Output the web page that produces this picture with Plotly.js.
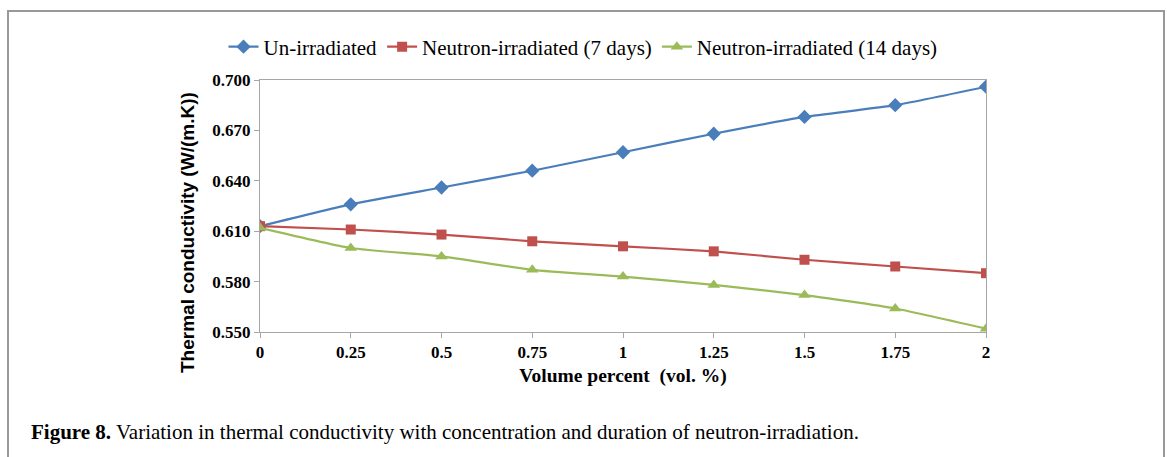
<!DOCTYPE html>
<html>
<head>
<meta charset="utf-8">
<script src="https://cdn.plot.ly/plotly-3.0.1.min.js"></script>
<style>
  html, body { margin: 0; padding: 0; background: #fff; }
  #chart { width: 1167px; height: 457px; }
</style>
</head>
<body>
<div id="chart"></div>
<script>
// Data
const volumePercent = [0, 0.25, 0.5, 0.75, 1, 1.25, 1.5, 1.75, 2];
const tickLabels = ["0", "0.25", "0.5", "0.75", "1", "1.25", "1.5", "1.75", "2"];
const unIrradiated = [0.613, 0.626, 0.636, 0.646, 0.657, 0.668, 0.678, 0.685, 0.696];
const irradiated7Days = [0.613, 0.611, 0.608, 0.604, 0.601, 0.598, 0.593, 0.589, 0.585];
const irradiated14Days = [0.612, 0.600, 0.595, 0.587, 0.583, 0.578, 0.572, 0.564, 0.552];
const seriesNames = ["Un-irradiated", "Neutron-irradiated (7 days)", "Neutron-irradiated (14 days)"];
const yTicks = [0.550, 0.580, 0.610, 0.640, 0.670, 0.700];

const serif = "Liberation Serif, Times New Roman, serif";

function series(name, y, color, symbol, size) {
  return {
    x: volumePercent, y: y, name: name, type: "scatter", mode: "lines+markers",
    line: { color: color, width: 2.2, shape: "spline", smoothing: 0.5 },
    marker: { color: color, symbol: symbol, size: size }
  };
}

const traces = [
  series(seriesNames[0], unIrradiated, "#4A7EBB", "diamond", 11),
  series(seriesNames[1], irradiated7Days, "#C0504D", "square", 10),
  series(seriesNames[2], irradiated14Days, "#9BBB59", "triangle-up", 11)
];

// paper-coordinate helpers (plot area 260..986 x, 80..332 y)
const L = 260, R = 986, T = 80, B = 332;
const px = v => (v - L) / (R - L);
const py = v => (B - v) / (B - T);

const layout = {
  width: 1167, height: 457,
  margin: { l: L, r: 1167 - R, t: T, b: 457 - B },
  paper_bgcolor: "#fff", plot_bgcolor: "#fff",
  showlegend: true,
  legend: {
    orientation: "h", x: px(583), xanchor: "center", y: py(47), yanchor: "middle",
    font: { family: serif, size: 21, color: "#000" },
    itemwidth: 30, tracegroupgap: 0
  },
  xaxis: {
    range: [0, 2], tickmode: "array", tickvals: volumePercent, ticktext: tickLabels,
    showgrid: false, zeroline: false,
    showline: true, linecolor: "#A6A6A6", linewidth: 1, mirror: true,
    ticks: "outside", ticklen: 5, tickcolor: "#A6A6A6",
    tickfont: { family: serif, size: 17, color: "#000", weight: "bold" },
    title: { text: "<b>Volume percent  (vol. %)</b>", font: { family: serif, size: 19.5, color: "#000" }, standoff: 6 }
  },
  yaxis: {
    range: [0.55, 0.70], tickmode: "array", tickvals: yTicks,
    tickformat: ".3f",
    showgrid: false, zeroline: false,
    showline: true, linecolor: "#A6A6A6", linewidth: 1, mirror: true,
    ticks: "outside", ticklen: 5, tickcolor: "#A6A6A6",
    tickfont: { family: serif, size: 17, color: "#000", weight: "bold" },
    title: { text: "" }
  },
  shapes: [
    { type: "rect", xref: "paper", yref: "paper",
      x0: px(8), x1: px(1164), y0: py(11), y1: py(470),
      line: { color: "#999", width: 2 }, fillcolor: "rgba(0,0,0,0)", layer: "below" }
  ],
  annotations: [
    { xref: "paper", yref: "paper", x: px(187), y: py(233), xanchor: "center", yanchor: "middle",
      showarrow: false, textangle: -90,
      text: "<b>Thermal conductivity (W/(m.K))</b>",
      font: { family: "Liberation Sans, Arial, sans-serif", size: 19, color: "#000" } },
    { xref: "paper", yref: "paper", x: px(29), y: py(432), xanchor: "left", yanchor: "middle",
      showarrow: false, align: "left",
      text: "<b>Figure 8.</b> Variation in thermal conductivity with concentration and duration of neutron-irradiation.",
      font: { family: serif, size: 21, color: "#000" } }
  ]
};

Plotly.newPlot("chart", traces, layout, { displayModeBar: false, staticPlot: true });
</script>
</body>
</html>
